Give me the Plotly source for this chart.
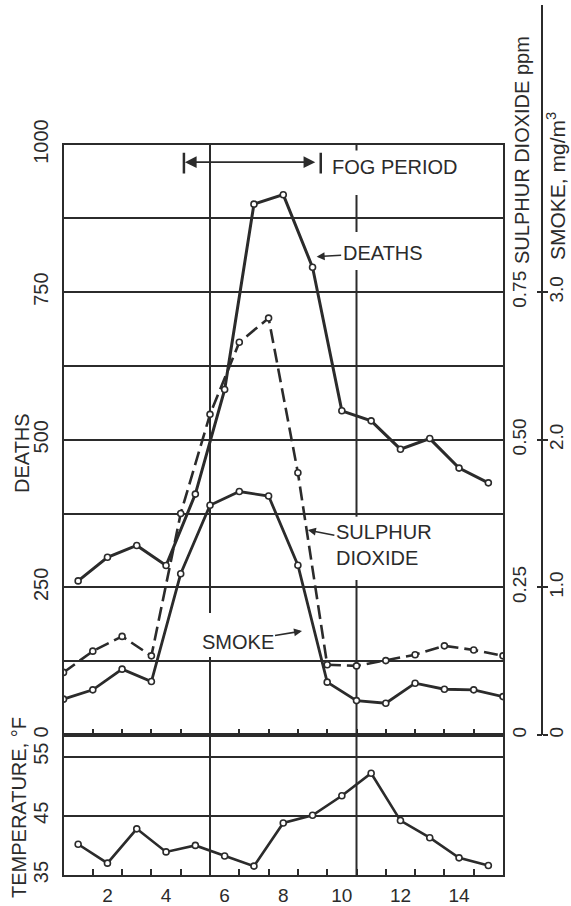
import plotly.graph_objects as go

# ---------------- data ----------------
days = [1, 2, 3, 4, 5, 6, 7, 8, 9, 10, 11, 12, 13, 14, 15]
period_mid = [0.5, 1.5, 2.5, 3.5, 4.5, 5.5, 6.5, 7.5, 8.5, 9.5, 10.5, 11.5, 12.5, 13.5, 14.5, 15.5]

deaths = [261, 301, 321, 287, 408, 585, 899, 915, 792, 549, 532, 484, 502, 452, 427]
so2_ppm = [0.106, 0.142, 0.167, 0.134, 0.375, 0.543, 0.665, 0.706, 0.444,
           0.119, 0.117, 0.126, 0.136, 0.151, 0.144, 0.134]
smoke_mg = [0.243, 0.306, 0.446, 0.362, 1.092, 1.556, 1.649, 1.619, 1.150,
            0.358, 0.233, 0.215, 0.351, 0.310, 0.306, 0.260]
temperature_f = [40.2, 37.0, 42.8, 38.9, 40.0, 38.2, 36.5, 43.8, 45.1, 48.4,
                 52.2, 44.2, 41.3, 37.9, 36.6]

x_tick_vals = [2, 4, 6, 8, 10, 12, 14]
x_tick_text = ["2", "4", "6", "8", "10", "12", "14"]
x_minor_vals = [1.5, 2.5, 3.5, 4.5, 5.5, 6.5, 7.5, 8.5, 9.5, 10.5, 11.5, 12.5, 13.5, 14.5]
deaths_ticks = [0, 250, 500, 750, 1000]
deaths_minor = [125, 375, 625, 875]
temp_ticks = [35, 45, 55]
so2_ticks = [0, 0.25, 0.5, 0.75]
so2_text = ["0", "0.25", "0.50", "0.75"]
smoke_ticks = [0, 1, 2, 3]
smoke_text = ["0", "1.0", "2.0", "3.0"]
fog_start, fog_end = 4.61, 9.28

# ---------------- styling ----------------
INK = "#2b2b2b"
FONT = "Liberation Sans, Arial, sans-serif"
W, H = 571, 906
def px(x):
    return x / W
def py(y):
    return 1 - y / H

xdom = [px(63.5), px(503)]
main_dom = [py(735), py(144.5)]
temp_dom = [py(875), py(735)]

marker = dict(symbol="circle", size=6, color="white", line=dict(color=INK, width=1.6))

fig = go.Figure()
fig.add_trace(go.Scatter(x=days, y=deaths, mode="lines+markers", name="Deaths",
                         line=dict(color=INK, width=3), marker=marker,
                         xaxis="x", yaxis="y"))
fig.add_trace(go.Scatter(x=period_mid, y=so2_ppm, mode="lines+markers", name="Sulphur dioxide",
                         line=dict(color=INK, width=2.6, dash="14px,6px"), marker=marker,
                         xaxis="x", yaxis="y3"))
fig.add_trace(go.Scatter(x=period_mid, y=smoke_mg, mode="lines+markers", name="Smoke",
                         line=dict(color=INK, width=2.8), marker=marker,
                         xaxis="x", yaxis="y4"))
fig.add_trace(go.Scatter(x=days, y=temperature_f, mode="lines+markers", name="Temperature",
                         line=dict(color=INK, width=2.6), marker=marker,
                         xaxis="x2", yaxis="y2"))

axis_common = dict(showline=True, linecolor=INK, linewidth=2, mirror=True,
                   zeroline=False, color=INK, automargin=False)
free_common = dict(overlaying="y", anchor="free", tickmode="array", tickangle=-90,
                   tickwidth=2, tickcolor=INK, showline=False, showgrid=False,
                   zeroline=False, color=INK, automargin=False,
                   tickfont=dict(size=19, color=INK))

fig.update_layout(
    template="none",
    width=W, height=H,
    margin=dict(l=0, r=0, t=0, b=0, pad=0, autoexpand=False),
    paper_bgcolor="white", plot_bgcolor="white",
    showlegend=False,
    font=dict(family=FONT, size=20, color=INK),
    xaxis=dict(domain=xdom, range=[0.5, 15.5], anchor="y", showgrid=False,
               tickmode="array", tickvals=x_minor_vals, ticks="inside", ticklen=6,
               tickwidth=2, tickcolor=INK, showticklabels=False, **axis_common),
    yaxis=dict(domain=main_dom, range=[0, 1000], anchor="x",
               tickmode="array", tickvals=deaths_ticks,
               tickangle=-90, ticks="", showgrid=True, gridcolor=INK, gridwidth=2,
               minor=dict(tickmode="array", tickvals=deaths_minor, showgrid=True,
                          gridcolor=INK, gridwidth=2, ticks=""),
               ticklabelstandoff=6, tickfont=dict(size=20), **axis_common),
    xaxis2=dict(domain=xdom, range=[0.5, 15.5], anchor="y2", showgrid=False,
                tickmode="array", tickvals=x_tick_vals, ticktext=x_tick_text, ticks="",
                minor=dict(tickmode="array", tickvals=x_minor_vals, ticks="inside",
                           ticklen=6, tickwidth=2, tickcolor=INK, showgrid=False),
                tickfont=dict(size=19), ticklabelstandoff=2, **axis_common),
    yaxis2=dict(domain=temp_dom, range=[35, 58.66], anchor="x2",
                tickmode="array", tickvals=temp_ticks, tickangle=-90, ticks="",
                showgrid=True, gridcolor=INK, gridwidth=2, ticklabelstandoff=6,
                tickfont=dict(size=20), **axis_common),
    # sulphur dioxide scale: labels and ticks left of the scale line
    yaxis3=dict(position=px(542), side="left", range=[0, 1.0], tickvals=so2_ticks,
                ticktext=so2_text, ticks="outside", ticklen=5, ticklabelstandoff=3,
                **free_common),
    # smoke scale: ticks and labels right of the scale line
    yaxis4=dict(position=px(542), side="right", range=[0, 4.0], tickvals=smoke_ticks,
                ticktext=smoke_text, ticks="outside", ticklen=5, ticklabelstandoff=-8,
                **free_common),
)

shapes = []
line_style = dict(color=INK, width=2)
# vertical period lines (broken where labels sit)
main_segments = [(5.5, 0, 132), (5.5, 206.6, 1000),
                 (10.5, 0, 262.5), (10.5, 369.7, 787.5), (10.5, 852, 914.5), (10.5, 990, 1000)]
for xv, y0, y1 in main_segments:
    shapes.append(dict(type="line", xref="x", yref="y", x0=xv, x1=xv, y0=y0, y1=y1,
                       line=line_style, layer="below"))
for xv in [5.5, 10.5]:
    shapes.append(dict(type="line", xref="x2", yref="y2", x0=xv, x1=xv, y0=35, y1=58.66,
                       line=line_style, layer="below"))
# fog period end bars
for xv in [fog_start, fog_end]:
    shapes.append(dict(type="line", xref="x", yref="y", x0=xv, x1=xv, y0=951, y1=986,
                       line=dict(color=INK, width=2.5)))
# right-hand scale line
shapes.append(dict(type="line", xref="paper", yref="paper", x0=px(542), x1=px(542),
                   y0=py(735), y1=py(5), line=line_style))
fig.update_layout(shapes=shapes)

C = dict(xanchor="center", yanchor="middle")
ann = []
# fog period bracket
ann.append(dict(x=fog_start, y=970, ax=fog_end, ay=970, xref="x", yref="y",
                axref="x", ayref="y", text=" ", showarrow=True, arrowside="end+start",
                arrowhead=2, arrowsize=1.3, arrowwidth=1.8, arrowcolor=INK, standoff=1,
                startstandoff=1))
ann.append(dict(x=px(394.5), y=py(166.7), xref="paper", yref="paper", text="FOG PERIOD",
                showarrow=False, font=dict(size=20), **C))
ann.append(dict(x=9.14, y=810, xref="x", yref="y", text="DEATHS", showarrow=True,
                ax=66, ay=-4, arrowhead=2, arrowsize=1, arrowwidth=1.6, arrowcolor=INK,
                font=dict(size=20)))
ann.append(dict(x=8.84, y=347, xref="x", yref="y", text="SULPHUR<br>DIOXIDE",
                align="left", showarrow=True, ax=76, ay=15, arrowhead=2, arrowsize=1,
                arrowwidth=1.6, arrowcolor=INK, font=dict(size=20)))
ann.append(dict(x=8.64, y=176, xref="x", yref="y", text="SMOKE", showarrow=True,
                ax=-64.5, ay=10.5, arrowhead=2, arrowsize=1, arrowwidth=1.6,
                arrowcolor=INK, font=dict(size=20)))
# axis titles
ann.append(dict(x=px(22), y=py(453), xref="paper", yref="paper", text="DEATHS",
                textangle=-90, showarrow=False, font=dict(size=20), **C))
ann.append(dict(x=px(19), y=py(808), xref="paper", yref="paper", text="TEMPERATURE, °F",
                textangle=-90, showarrow=False, font=dict(size=20), **C))
ann.append(dict(x=px(522), y=py(150), xref="paper", yref="paper", text="SULPHUR DIOXIDE ppm",
                textangle=-90, showarrow=False, font=dict(size=20), **C))
ann.append(dict(x=px(556), y=py(186), xref="paper", yref="paper", text="SMOKE, mg/m<sup>3</sup>",
                textangle=-90, showarrow=False, font=dict(size=21), **C))
fig.update_layout(annotations=ann)

fig.write_html("out.html", post_script="document.body.style.margin='0px';",
               config={"displayModeBar": False})
